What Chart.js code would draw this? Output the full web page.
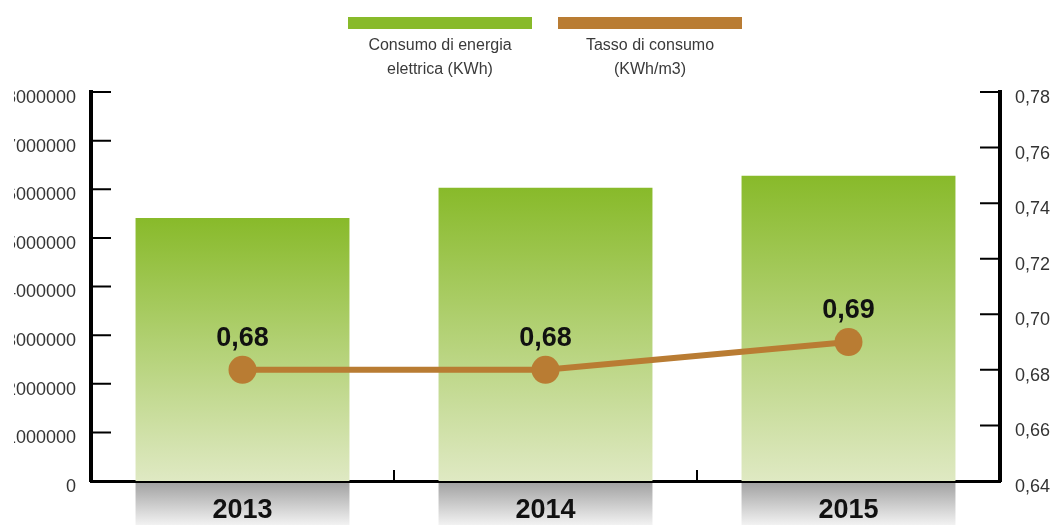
<!DOCTYPE html>
<html>
<head>
<meta charset="utf-8">
<script src="https://cdn.jsdelivr.net/npm/chart.js@4.4.0/dist/chart.umd.min.js"></script>
<style>
  html, body { margin: 0; padding: 0; background: #fff; }
  #wrap { position: relative; width: 1058px; height: 525px; overflow: hidden; }
  #chart { position: absolute; left: 0; top: 0; clip-path: inset(0 0 0 14px); }
  .leg { position: absolute; top: 17px; width: 184px; text-align: center;
         font-family: "Liberation Sans", Arial, sans-serif;
         font-size: 16px; line-height: 24px; color: #3a3a3a; }
  .leg .sw { height: 12px; margin-bottom: 4px; }
</style>
</head>
<body>
<div id="wrap">
  <canvas id="chart" width="1058" height="525"></canvas>
  <div class="leg" style="left:348px"><div class="sw" style="background:#88ba2a"></div>Consumo di energia<br>elettrica (KWh)</div>
  <div class="leg" style="left:558px"><div class="sw" style="background:#b97c33"></div>Tasso di consumo<br>(KWh/m3)</div>
</div>
<script>
const years = ['2013', '2014', '2015'];
const energy = [5410000, 6030000, 6280000];
const rate = [0.68, 0.68, 0.69];
const rateLabels = ['0,68', '0,68', '0,69'];

const green = '#88ba2a';
const brown = '#b97c33';

function barGradient(context) {
  const chart = context.chart;
  const area = chart.chartArea;
  if (!area) return green;
  const top = chart.scales.y.getPixelForValue(context.raw || 0);
  const g = chart.ctx.createLinearGradient(0, top, 0, area.bottom);
  g.addColorStop(0, '#88ba2a');
  g.addColorStop(1, '#dfe9c3');
  return g;
}

// gray boxes under the year labels
const yearBoxes = {
  id: 'yearBoxes',
  beforeDraw(chart) {
    const ctx = chart.ctx;
    const meta = chart.getDatasetMeta(0);
    const area = chart.chartArea;
    const h = chart.height;
    ctx.save();
    meta.data.forEach(bar => {
      const w = bar.width;
      const g = ctx.createLinearGradient(0, area.bottom + 2, 0, h);
      g.addColorStop(0, '#a3a3a3');
      g.addColorStop(1, '#f2f2f2');
      ctx.fillStyle = g;
      ctx.fillRect(bar.x - w / 2, area.bottom + 2, w, h - area.bottom - 2);
    });
    ctx.restore();
  }
};

// inward tick marks on all three axes
const innerTicks = {
  id: 'innerTicks',
  afterDraw(chart) {
    const ctx = chart.ctx;
    const area = chart.chartArea;
    const y = chart.scales.y, y1 = chart.scales.y1, x = chart.scales.x;
    ctx.save();
    ctx.strokeStyle = '#000';
    ctx.lineWidth = 2;
    ctx.beginPath();
    y.ticks.forEach(t => {
      const py = y.getPixelForValue(t.value);
      ctx.moveTo(area.left, py); ctx.lineTo(area.left + 20, py);
    });
    y1.ticks.forEach(t => {
      const py = y1.getPixelForValue(t.value);
      ctx.moveTo(area.right, py); ctx.lineTo(area.right - 20, py);
    });
    for (let i = 1; i < years.length; i++) {
      const px = (x.getPixelForValue(i - 1) + x.getPixelForValue(i)) / 2;
      ctx.moveTo(px, area.bottom); ctx.lineTo(px, area.bottom - 11);
    }
    ctx.stroke();
    ctx.restore();
  }
};

// value labels above line points
const pointLabels = {
  id: 'pointLabels',
  afterDatasetsDraw(chart) {
    const ctx = chart.ctx;
    const meta = chart.getDatasetMeta(1);
    ctx.save();
    ctx.font = 'bold 27px "Liberation Sans", Arial, sans-serif';
    ctx.fillStyle = '#111';
    ctx.textAlign = 'center';
    ctx.textBaseline = 'alphabetic';
    meta.data.forEach((pt, i) => {
      ctx.fillText(rateLabels[i], pt.x, pt.y - 24);
    });
    ctx.restore();
  }
};

new Chart(document.getElementById('chart'), {
  data: {
    labels: years,
    datasets: [
      {
        type: 'bar',
        label: 'Consumo di energia elettrica (KWh)',
        data: energy,
        yAxisID: 'y',
        backgroundColor: barGradient,
        categoryPercentage: 1,
        barPercentage: 0.706,
        order: 2
      },
      {
        type: 'line',
        label: 'Tasso di consumo (KWh/m3)',
        data: rate,
        yAxisID: 'y1',
        borderColor: brown,
        backgroundColor: brown,
        borderWidth: 6,
        pointRadius: 14,
        pointHoverRadius: 14,
        pointBorderWidth: 0,
        order: 1
      }
    ]
  },
  options: {
    responsive: false,
    animation: false,
    layout: { padding: { top: 92, left: 0, right: 0, bottom: 0 } },
    plugins: { legend: { display: false }, tooltip: { enabled: false } },
    scales: {
      x: {
        grid: { display: false, drawTicks: false },
        border: { color: '#000', width: 3 },
        ticks: {
          color: '#111',
          padding: 13,
          font: { family: '"Liberation Sans", Arial, sans-serif', size: 27, weight: 'bold' }
        },
        afterFit(s) { s.height = 44; }
      },
      y: {
        position: 'left',
        min: 0, max: 8000000,
        ticks: {
          stepSize: 1000000,
          color: '#333',
          padding: 15,
          labelOffset: 6,
          font: { family: '"Liberation Sans", Arial, sans-serif', size: 18 },
          callback: v => String(v)
        },
        grid: { display: false, drawTicks: false },
        border: { color: '#000', width: 4 },
        afterFit(s) { s.width = 91; }
      },
      y1: {
        position: 'right',
        min: 0.64, max: 0.78,
        ticks: {
          stepSize: 0.02,
          color: '#333',
          padding: 15,
          labelOffset: 6,
          font: { family: '"Liberation Sans", Arial, sans-serif', size: 18 },
          callback: v => v.toFixed(2).replace('.', ',')
        },
        grid: { display: false, drawTicks: false },
        border: { color: '#000', width: 4 },
        afterFit(s) { s.width = 58; }
      }
    }
  },
  plugins: [yearBoxes, innerTicks, pointLabels]
});
</script>
</body>
</html>
